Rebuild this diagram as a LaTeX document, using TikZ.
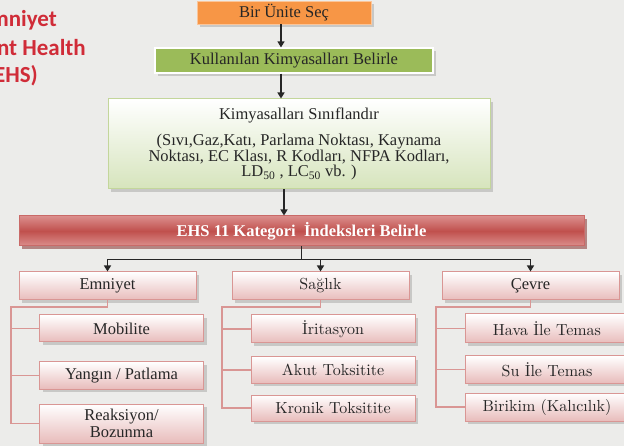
\documentclass[tikz,border=0pt]{standalone}
\usepackage{fontspec}
\setmainfont{Liberation Serif}
\newfontfamily\slidefont{Carlito}
\newfontfamily\lmfont{lmroman10-regular.otf}
\usetikzlibrary{arrows.meta,shadows}

\definecolor{slidebg}{RGB}{236,236,234}
\definecolor{boxorange}{RGB}{247,150,70}
\definecolor{boxgreen}{RGB}{155,187,89}
\definecolor{palegreen}{RGB}{214,228,188}
\definecolor{greenline}{RGB}{195,214,155}
\definecolor{ehsred}{RGB}{192,80,77}
\definecolor{ehslight}{RGB}{219,142,140}
\definecolor{ehsdark}{RGB}{125,32,30}
\definecolor{pinkfill}{RGB}{232,188,187}
\definecolor{pinkline}{RGB}{217,150,148}
\definecolor{shadowgrey}{RGB}{165,165,163}
\definecolor{titlered}{RGB}{208,44,56}
\definecolor{txt}{RGB}{38,38,38}

\begin{document}
\begin{tikzpicture}
        [x=1pt, y=-1pt,
        base/.style={inner sep=0pt, align=center, text=txt, font=\fontsize{16.5}{15.5}\selectfont},
        lmtext/.style={font=\lmfont\fontsize{16}{15.5}\selectfont},
        greyshadow/.style={drop shadow={shadow xshift=3pt, shadow yshift=-3pt, fill=shadowgrey}},
        topbox/.style={base, greyshadow, fill=boxorange, draw=boxorange!55!white, line width=0.8pt},
        greenbox/.style={base, greyshadow, fill=boxgreen, draw=white, line width=1.2pt},
        classbox/.style={base, greyshadow, top color=white, bottom color=palegreen, draw=greenline, line width=1pt},
        headbox/.style={base, top color=ehslight, bottom color=ehslight, middle color=ehsred, draw=ehsred!85!white, line width=1pt,
                text=white, font=\fontsize{16.5}{15.5}\selectfont\bfseries,
                drop shadow={shadow xshift=3pt, shadow yshift=-3pt, fill=ehsdark}},
        catbox/.style={base, greyshadow, top color=white, bottom color=pinkfill, draw=pinkline, line width=1pt,
                minimum width=177pt, minimum height=28pt},
        itembox/.style={base, greyshadow, top color=white, bottom color=pinkfill, draw=pinkline, line width=1pt,
                minimum width=164pt},
        arrowline/.style={black!85, line width=1.3pt, -{Triangle[width=7pt,length=6pt]}},
        treeline/.style={pinkline, line width=1.6pt},
        slidetitle/.style={inner sep=0pt, anchor=east, text=titlered, font=\slidefont\fontsize{23}{23}\selectfont\bfseries}]

        \useasboundingbox (0,0) rectangle (624,446);
        \clip (0,0) rectangle (624,446);
        \fill[slidebg] (0,0) rectangle (624,446);

        % slide title, cut off at the left edge
        \node[slidetitle] (title1) at (57,20) {mniyet};
        \node[slidetitle] (title2) at (86,48) {nt Health};
        \node[slidetitle] (title3) at (38,76) {(EHS)};

        % main flow
        \node[topbox, minimum width=174pt, minimum height=23pt] (bir) at (284,12.5) {Bir Ünite Seç};
        \node[greenbox, minimum width=278pt, minimum height=25pt] (kull) at (294,60.5) {Kullanılan Kimyasalları Belirle};
        \node[classbox, minimum width=382pt, minimum height=90pt] (kim) at (299,144)
                {Kimyasalları Sınıflandır\\[11pt]
                (Sıvı,Gaz,Katı, Parlama Noktası, Kaynama\\
                Noktası, EC Klası, R Kodları, NFPA Kodları,\\
                LD\textsubscript{50} , LC\textsubscript{50} vb. )};
        \node[headbox, minimum width=565pt, minimum height=30pt] (ehs) at (301.5,231) {EHS 11 Kategori \ İndeksleri Belirle};

        % categories
        \node[catbox] (emn) at (107.5,286) {Emniyet};
        \node[catbox, lmtext] (sag) at (320.5,286) {Sağlık};
        \node[catbox] (cev) at (530.5,286) {Çevre};

        % items
        \node[itembox, minimum height=27pt] (mob) at (121.5,328.5) {Mobilite};
        \node[itembox, minimum height=27pt] (yan) at (121.5,375.5) {Yangın / Patlama};
        \node[itembox, minimum height=39pt, font=\fontsize{16.5}{16.5}\selectfont] (rea) at (121.5,423.5) {Reaksiyon/\\Bozunma};
        \node[itembox, minimum height=28pt, lmtext] (iri) at (333,329) {İritasyon};
        \node[itembox, minimum height=26pt, lmtext] (aku) at (333,370) {Akut Toksitite};
        \node[itembox, minimum height=26pt, lmtext] (kro) at (333,408) {Kronik Toksitite};
        \node[itembox, minimum height=29pt, lmtext] (hav) at (547,328.5) {Hava İle Temas};
        \node[itembox, minimum height=27pt, lmtext] (su) at (547,369.5) {Su İle Temas};
        \node[itembox, minimum height=28pt, lmtext] (brk) at (547,407) {Birikim (Kalıcılık)};

        % arrows of the main flow
        \coordinate (flow) at (281,0);
        \draw[arrowline] (bir.south -| flow) -- (kull.north -| flow);
        \draw[arrowline] (kull.south -| flow) -- (kim.north -| flow);
        \draw[arrowline] ([xshift=3pt]kim.south -| flow) -- ([xshift=3pt]ehs.north -| flow);
        \draw[arrowline] (ehs.south) -- ++(0,13) -| (emn.north);
        \draw[arrowline] (ehs.south) -- ++(0,13) -| (sag.north);
        \draw[arrowline] (ehs.south) -- ++(0,13) -| (cev.north);

        % trunks of the three lists
        \coordinate (emntrunk) at (11,307);
        \coordinate (sagtrunk) at (222,307);
        \coordinate (cevtrunk) at (436,307);

        \draw[treeline] (emn.south) |- (emntrunk) |- (rea.west);
        \draw[treeline] (emntrunk |- mob.west) -- (mob.west);
        \draw[treeline] (emntrunk |- yan.west) -- (yan.west);

        \draw[treeline] (sag.south) |- (sagtrunk) |- (kro.west);
        \draw[treeline] (sagtrunk |- iri.west) -- (iri.west);
        \draw[treeline] (sagtrunk |- aku.west) -- (aku.west);

        \draw[treeline] (cev.south) |- (cevtrunk) |- (brk.west);
        \draw[treeline] (cevtrunk |- hav.west) -- (hav.west);
        \draw[treeline] (cevtrunk |- su.west) -- (su.west);

\end{tikzpicture}
\end{document}
